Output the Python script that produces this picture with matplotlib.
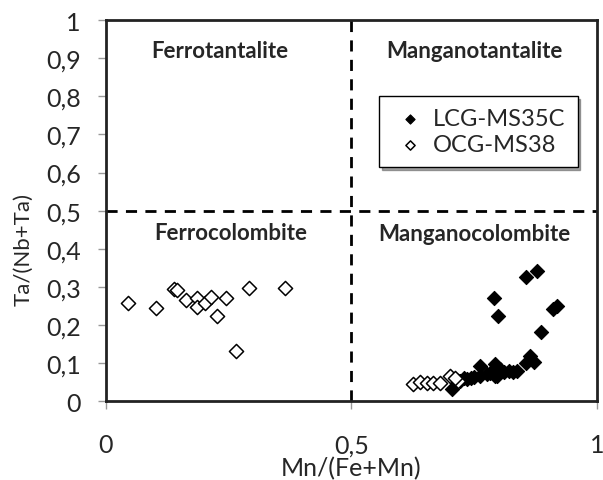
import numpy as np
import matplotlib
matplotlib.use("Agg")
import matplotlib.pyplot as plt

# LCG-MS35C (filled diamonds)
lcg_x = [0.791, 0.799, 0.855, 0.878, 0.911, 0.918, 0.886, 0.864, 0.855, 0.871,
         0.762, 0.793, 0.704, 0.721, 0.735, 0.749, 0.762, 0.776, 0.789, 0.796,
         0.803, 0.810, 0.820, 0.830, 0.837, 0.793, 0.783, 0.743, 0.730]
lcg_y = [0.270, 0.223, 0.325, 0.343, 0.242, 0.251, 0.181, 0.120, 0.100, 0.104,
         0.093, 0.098, 0.032, 0.054, 0.058, 0.063, 0.067, 0.072, 0.080, 0.067,
         0.085, 0.076, 0.080, 0.078, 0.080, 0.067, 0.075, 0.062, 0.060]

# OCG-MS38 (open diamonds)
ocg_x = [0.045, 0.102, 0.138, 0.145, 0.164, 0.185, 0.186, 0.201, 0.215, 0.227,
         0.245, 0.265, 0.291, 0.364,
         0.626, 0.640, 0.654, 0.667, 0.681, 0.701, 0.718, 0.710]
ocg_y = [0.258, 0.244, 0.295, 0.293, 0.266, 0.270, 0.247, 0.258, 0.274, 0.225,
         0.270, 0.133, 0.298, 0.298,
         0.045, 0.050, 0.048, 0.047, 0.048, 0.067, 0.054, 0.060]

y_ticks = [0, 0.1, 0.2, 0.3, 0.4, 0.5, 0.6, 0.7, 0.8, 0.9, 1]
y_labels = ["0", "0,1", "0,2", "0,3", "0,4", "0,5", "0,6", "0,7", "0,8", "0,9", "1"]
x_ticks = [0, 0.5, 1]
x_labels = ["0", "0,5", "1"]

fields = [("Ferrotantalite", 0.232, 0.919), ("Manganotantalite", 0.75, 0.919),
          ("Ferrocolombite", 0.255, 0.444), ("Manganocolombite", 0.751, 0.439)]

plt.rcParams["font.family"] = ["Lato", "DejaVu Sans"]
txt = "#262626"

W, H = 603, 481
fig = plt.figure(figsize=(W / 100, H / 100), dpi=100)
x0, x1, ytop, ybot = 105.8, 597, 21, 402.3
ax = fig.add_axes([x0 / W, 1 - ybot / H, (x1 - x0) / W, (ybot - ytop) / H])

ax.axvline(0.5, color="black", ls=(0, (4, 3)), lw=2, zorder=1)
ax.axhline(0.5, color="black", ls=(0, (4, 3)), lw=2, zorder=1)

ax.scatter(lcg_x, lcg_y, marker="D", s=52, c="black", edgecolors="black",
           linewidths=0.8, label="LCG-MS35C", zorder=3)
ax.scatter(ocg_x, ocg_y, marker="D", s=52, facecolors="white", edgecolors="black",
           linewidths=1.1, label="OCG-MS38", zorder=3)

for name, fx, fy in fields:
    ax.text(fx, fy, name, ha="center", va="center", fontsize=16, fontweight="bold",
            color=txt)

ax.set_xlim(0, 1)
ax.set_ylim(0, 1)
ax.set_yticks(y_ticks)
ax.set_yticklabels(y_labels, fontsize=18, color=txt)
ax.set_xticks(x_ticks)
ax.set_xticklabels(x_labels, fontsize=18, color=txt)
ax.tick_params(axis="y", length=6, width=1, color="#999999", pad=12)
ax.tick_params(axis="x", length=6, width=1, color="#999999", pad=17)
for sp in ax.spines.values():
    sp.set_linewidth(2)
    sp.set_color("#222222")

ax.set_xlabel("Mn/(Fe+Mn)", fontsize=18, labelpad=0, color=txt)
ax.set_ylabel("Ta/(Nb+Ta)", fontsize=16, color=txt)
ax.yaxis.set_label_coords(-0.148, 0.40)

leg = ax.legend(loc="upper left", bbox_to_anchor=(0.556, 0.80), borderaxespad=0,
                fontsize=17, frameon=True, fancybox=False, shadow=True,
                handletextpad=0.2, handlelength=1.6, borderpad=0.5,
                labelspacing=0.22, markerscale=0.65)
leg.get_frame().set_edgecolor("black")
leg.get_frame().set_linewidth(1)
for t in leg.get_texts():
    t.set_color(txt)

fig.savefig("out.png", dpi=100)
